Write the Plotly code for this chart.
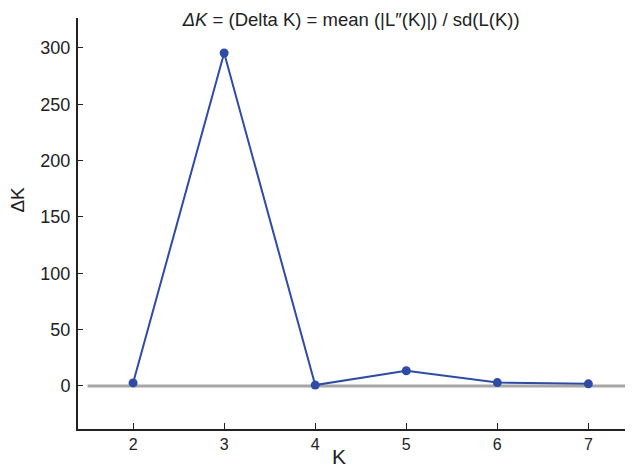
import plotly.graph_objects as go

k_values = [2, 3, 4, 5, 6, 7]
delta_k = [2.7, 295.5, 0.8, 13.5, 3.0, 1.9]
x_ticks = [2, 3, 4, 5, 6, 7]
y_ticks = [0, 50, 100, 150, 200, 250, 300]

fig = go.Figure()
fig.add_shape(type="line", xref="x", yref="y", x0=1.5, x1=7.6, y0=0, y1=0,
              line=dict(color="#A6A6A6", width=3), layer="below")
fig.add_trace(go.Scatter(x=k_values, y=delta_k, mode="lines+markers",
                         line=dict(color="#2E4BA6", width=2),
                         marker=dict(color="#2E4BA6", size=9),
                         cliponaxis=False))

# page body has an 8px margin, so the figure is sized to the visible area
fig.update_layout(
    width=625, height=459,
    margin=dict(l=70, r=0, t=10, b=38),
    plot_bgcolor="white", paper_bgcolor="white",
    font=dict(family="Liberation Sans, Arial, sans-serif", size=16, color="#222"),
    showlegend=False,
    title=dict(text="<i>ΔK</i> = (Delta K) = mean (|L\u2033(K)|) / sd(L(K))",
               x=0.549, xanchor="center", y=0.974, yanchor="middle",
               font=dict(size=18.5, color="#222")),
    annotations=[
        dict(text="ΔK", xref="paper", yref="paper", x=-0.109, y=0.557,
             showarrow=False, textangle=-90, font=dict(size=19, color="#222"),
             xanchor="center", yanchor="middle"),
        dict(text="K", xref="paper", yref="paper", x=0.470, y=-0.066,
             showarrow=False, font=dict(size=21, color="#222"),
             xanchor="center", yanchor="middle"),
    ],
)
fig.update_xaxes(range=[1.395, 7.49], tickvals=x_ticks, ticks="inside", ticklen=6,
                 tickwidth=1.2, tickcolor="#222", showline=True, linecolor="#222",
                 linewidth=2, showgrid=False, zeroline=False,
                 tickfont=dict(size=16))
fig.update_yaxes(range=[-38.2, 326.6], tickvals=y_ticks, ticks="inside", ticklen=5,
                 tickwidth=1.2, tickcolor="#222", showline=True, linecolor="#222",
                 linewidth=2, showgrid=False, zeroline=False,
                 tickfont=dict(size=18), ticklabelstandoff=2)

fig.write_html("out.html")
